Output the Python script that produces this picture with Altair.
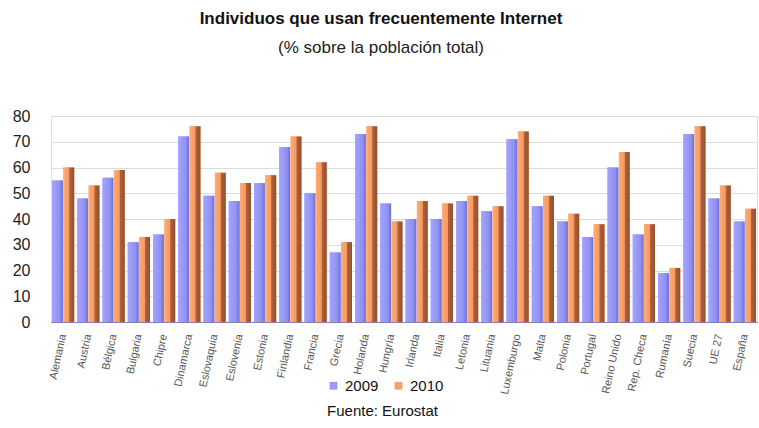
import altair as alt
import pandas as pd

paises = ["Alemania", "Austria", "Bélgica", "Bulgaria", "Chipre", "Dinamarca",
          "Eslovaquia", "Eslovenia", "Estonia", "Finlandia", "Francia", "Grecia",
          "Holanda", "Hungría", "Irlanda", "Italia", "Letonia", "Lituania",
          "Luxemburgo", "Malta", "Polonia", "Portugal", "Reino Unido", "Rep. Checa",
          "Rumanía", "Suecia", "UE 27", "España"]
v2009 = [55, 48, 56, 31, 34, 72, 49, 47, 54, 68, 50, 27, 73, 46, 40, 40, 47, 43,
         71, 45, 39, 33, 60, 34, 19, 73, 48, 39]
v2010 = [60, 53, 59, 33, 40, 76, 58, 54, 57, 72, 62, 31, 76, 39, 47, 46, 49, 45,
         74, 49, 42, 38, 66, 38, 21, 76, 53, 44]
years = ["2009", "2010"]
colors = ["#9b9bf7", "#f7a06a"]

rows = []
for p, a, b in zip(paises, v2009, v2010):
    rows.append({"pais": p, "anio": "2009", "valor": a})
    rows.append({"pais": p, "anio": "2010", "valor": b})
df = pd.DataFrame(rows)

W, H = 706, 206

x = alt.X("pais:N", sort=paises,
          scale=alt.Scale(paddingInner=0.12, paddingOuter=0.04),
          axis=alt.Axis(title="Fuente: Eurostat", labelAngle=-78, labelFontSize=11,
                        labelColor="#555", labelPadding=12, ticks=False,
                        domainColor="#8a7fb0", labelFont="Liberation Sans",
                        titleFont="Liberation Sans", titleFontSize=15,
                        titleFontWeight="normal", titleColor="#111",
                        titleY=88, titleX=331, titleBaseline="middle",
                        titleAnchor="start", titleAlign="center"))
y = alt.Y("valor:Q", scale=alt.Scale(domain=[0, 80]),
          axis=alt.Axis(title=None, values=[0, 10, 20, 30, 40, 50, 60, 70, 80],
                        labelFontSize=16, labelColor="#222", labelPadding=21,
                        ticks=False, domain=False, gridColor="#dcdcdc",
                        labelFont="Liberation Sans"))

base = alt.Chart(df).encode(x=x, y=y, xOffset=alt.XOffset("anio:N", sort=years,
                                                         scale=alt.Scale(paddingInner=0.05)))

bars = base.mark_bar().encode(
    color=alt.Color("anio:N", sort=years,
                    scale=alt.Scale(domain=years, range=colors),
                    legend=alt.Legend(title=None, orient="none", direction="horizontal",
                                      legendX=275, legendY=262, symbolType="square",
                                      symbolSize=60, labelFontSize=15,
                                      labelFont="Liberation Sans", labelColor="#111",
                                      symbolStrokeWidth=0, columnPadding=12,
                                      labelOffset=4)))

g09 = alt.Gradient(gradient="linear", x1=0, x2=1, y1=0, y2=0,
                   stops=[alt.GradientStop(color="#a4a4ff", offset=0),
                          alt.GradientStop(color="#9090f0", offset=0.7),
                          alt.GradientStop(color="#6d6dd6", offset=1)])
g10 = alt.Gradient(gradient="linear", x1=0, x2=1, y1=0, y2=0,
                   stops=[alt.GradientStop(color="#ffab75", offset=0),
                          alt.GradientStop(color="#f59a60", offset=0.5),
                          alt.GradientStop(color="#b0613a", offset=0.58),
                          alt.GradientStop(color="#93502e", offset=1)])

over09 = base.mark_bar(fill=g09).transform_filter(alt.datum.anio == "2009")
over10 = base.mark_bar(fill=g10).transform_filter(alt.datum.anio == "2010")

chart = alt.layer(bars, over09, over10).properties(
    width=W, height=H,
    padding={"left": 51, "top": 116, "right": 2, "bottom": 106},
    autosize=alt.AutoSizeParams(type="none"),
    title=alt.TitleParams(text="Individuos que usan frecuentemente Internet",
                          subtitle="(% sobre la población total)",
                          font="Liberation Sans", fontSize=17, fontWeight="bold",
                          color="#111", subtitleFont="Liberation Sans",
                          subtitleFontSize=17, subtitleColor="#222",
                          subtitlePadding=12, anchor="middle", frame="group",
                          dx=-23, offset=51)
).configure_view(stroke=None).configure(background="white")

chart.save("out.html", embed_options={"renderer": "svg", "actions": False})
